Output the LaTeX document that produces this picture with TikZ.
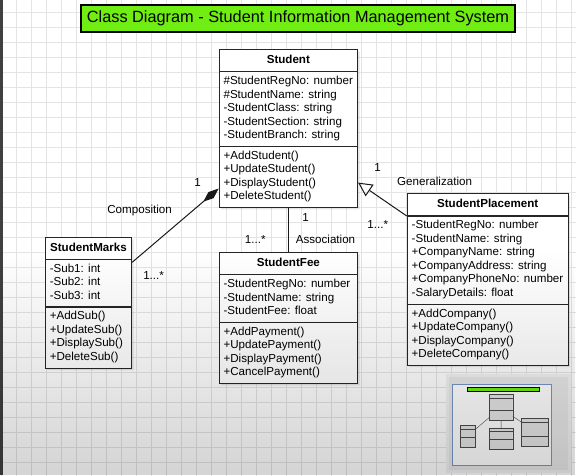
\documentclass[tikz,border=0pt]{standalone}
\usepackage{fontspec}
\setmainfont{Liberation Sans}
\usetikzlibrary{positioning,shapes.multipart,arrows.meta,shadows,fadings}
\definecolor{titlegreen}{RGB}{112,238,20}
\definecolor{gridgray}{RGB}{228,228,228}
\definecolor{miniblue}{RGB}{120,150,200}
\newcommand{\hstrut}{\rule[-4.5pt]{0pt}{15pt}}
\tikzfading[name=fadedown, top color=transparent!100, bottom color=transparent!0]
\begin{document}
\begin{tikzpicture}[x=1pt,y=-1pt,
    umlclass/.style={draw=black!85, line width=1.1pt, fill=white,
      rectangle split, rectangle split parts=3,
      rectangle split part align={center,left,left},
      align=left, inner xsep=4.4pt, inner ysep=3pt,
      font=\fontsize{11.6}{13.5}\selectfont,
      drop shadow={shadow xshift=2pt,shadow yshift=-2pt,opacity=0.2},
      anchor=north west},
    lbl/.style={font=\fontsize{11.6}{13.5}\selectfont, inner sep=0pt},
    link/.style={draw=black!90, line width=1pt}]
    \useasboundingbox (0,0) rectangle (576,475);
    \fill[white] (0,0) rectangle (576,475);
    \begin{scope}
        \clip (0,0) rectangle (576,475);
        \draw[gridgray, line width=0.6pt, step=15pt, xshift=1.7pt, yshift=-12pt] (-15,-15) grid (590,490);
    \end{scope}
    \fill[black!75] (0,0) rectangle (2.5,475);

    % title
    \node[draw=black, line width=1.1pt, fill=titlegreen, minimum width=434pt, minimum height=27pt,
        inner sep=0pt, font=\fontsize{16.3}{19}\selectfont] (title) at (298,18.5)
        {Class Diagram - Student Information Management System};

    % classes
    \node[umlclass, minimum width=138.4pt] (student) at (218.6,49)
        {\hstrut\textbf{Student}
        \nodepart{two}\strut\#StudentRegNo: number\\\#StudentName: string\\-StudentClass: string\\-StudentSection: string\\-StudentBranch: string\strut
        \nodepart{three}\strut+AddStudent()\\+UpdateStudent()\\+DisplayStudent()\\+DeleteStudent()\strut};
    \node[umlclass, minimum width=138.4pt, below=44pt of student] (fee)
        {\hstrut\textbf{StudentFee}
        \nodepart{two}\strut-StudentRegNo: number\\-StudentName: string\\-StudentFee: float\strut
        \nodepart{three}\strut+AddPayment()\\+UpdatePayment()\\+DisplayPayment()\\+CancelPayment()\strut};
    \node[umlclass, minimum width=86.2pt] (marks) at (44.8,236.7)
        {\hstrut\textbf{StudentMarks}
        \nodepart{two}\strut-Sub1: int\\-Sub2: int\\-Sub3: int\strut
        \nodepart{three}\strut+AddSub()\\+UpdateSub()\\+DisplaySub()\\+DeleteSub()\strut};
    \node[umlclass, minimum width=160.9pt] (placement) at (406.7,193.3)
        {\hstrut\textbf{StudentPlacement}
        \nodepart{two}\strut-StudentRegNo: number\\-StudentName: string\\+CompanyName: string\\+CompanyAddress: string\\+CompanyPhoneNo: number\\-SalaryDetails: float\strut
        \nodepart{three}\strut+AddCompany()\\+UpdateCompany()\\+DisplayCompany()\\+DeleteCompany()\strut};

    % relations
    \draw[link, -{Diamond[length=20pt,width=8pt]}] ([yshift=-3pt]marks.text split east) -- ([yshift=19.3pt]student.south west);
    \draw[link] (student.south) -- (fee.north);
    \draw[link, -{Triangle[open,length=14pt,width=14pt]}] (placement.text split west) -- ([yshift=25.3pt]student.south east);

    \node[lbl] (compone) at (197.6,182.3) {1};
    \node[lbl] (complbl) at (139.6,210.7) {Composition};
    \node[lbl] (compmany) at (153.6,275.7) {1...*};
    \node[lbl] (assocone) at (305.7,217.7) {1};
    \node[lbl] (assocmany) at (255.3,239.3) {1...*};
    \node[lbl] (assoclbl) at (325.5,239.3) {Association};
    \node[lbl] (genone) at (377.7,167.7) {1};
    \node[lbl] (genlbl) at (434.6,181.7) {Generalization};
    \node[lbl] (genmany) at (377.7,224.3) {1...*};

    % outline view
    \fill[black!5] (446,374) rectangle (571,473);
    \fill[black!9] (449,377) rectangle (568,470);
    \draw[miniblue, line width=0.8pt, fill=white] (452.7,384) rectangle (551,465.7);
    \begin{scope}[shift={(453.2,385.9)}, scale=0.1667]
        \draw[line width=0.4pt, fill=titlegreen] (81,5) rectangle (515,32);
        \foreach \l/\t/\r/\b/\h/\m in {218.6/49/357/207/71/146, 44.8/236.7/131/367/259/307,
            218.6/251/357/381.7/273/321.7, 406.7/193.3/567.6/364/215.7/304}
            \draw[black!70, line width=0.4pt, fill=black!10] (\l,\t) rectangle (\r,\b) (\l,\h) -- (\r,\h) (\l,\m) -- (\r,\m);
        \draw[black!70, line width=0.4pt] (131,262) -- (218.6,187.7) (287.8,207) -- (287.8,251) (406.7,215.7) -- (357,181.7);
    \end{scope}

    \fill[black, opacity=0.17, path fading=fadedown] (0,250) rectangle (576,475);
\end{tikzpicture}
\end{document}
